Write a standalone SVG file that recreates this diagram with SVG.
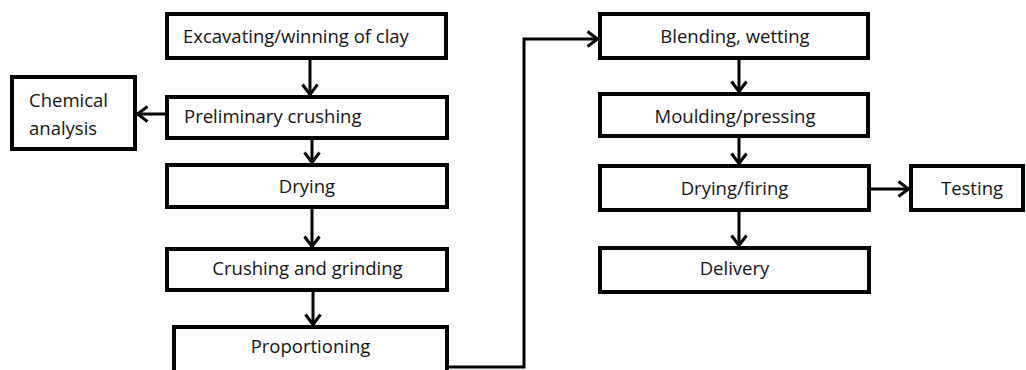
<svg xmlns="http://www.w3.org/2000/svg" width="1026" height="370" viewBox="0 0 1026 370">
  <style>
    .box { fill: #ffffff; stroke: #000000; stroke-width: 4; }
    .lbl { font-family: "Open Sans", "Liberation Sans", sans-serif; font-size: 18.5px; fill: #141414; }
    .c { text-anchor: middle; }
    .conn { fill: none; stroke: #000000; stroke-width: 3; }
  </style>
  <defs>
    <marker id="arrow" viewBox="0 0 14 18" markerWidth="14" markerHeight="18" refX="12.5" refY="9" orient="auto" markerUnits="userSpaceOnUse">
      <path d="M2,1.5 L12,9 L2,16.5" fill="none" stroke="#000" stroke-width="3"/>
    </marker>
  </defs>
  <rect width="1026" height="370" fill="#ffffff"/>

  <g id="connectors">
    <line class="conn" x1="310" y1="60" x2="310" y2="95" marker-end="url(#arrow)"/>
    <line class="conn" x1="165" y1="114" x2="137" y2="114" marker-end="url(#arrow)"/>
    <line class="conn" x1="312" y1="140" x2="312" y2="163" marker-end="url(#arrow)"/>
    <line class="conn" x1="312" y1="209" x2="312" y2="247" marker-end="url(#arrow)"/>
    <line class="conn" x1="313" y1="292" x2="313" y2="325" marker-end="url(#arrow)"/>
    <polyline class="conn" points="449,367 524,367 524,39 598,39" marker-end="url(#arrow)"/>
    <line class="conn" x1="739" y1="60" x2="739" y2="92" marker-end="url(#arrow)"/>
    <line class="conn" x1="739" y1="138" x2="739" y2="164" marker-end="url(#arrow)"/>
    <line class="conn" x1="739" y1="212" x2="739" y2="246" marker-end="url(#arrow)"/>
    <line class="conn" x1="871" y1="189" x2="909" y2="189" marker-end="url(#arrow)"/>
  </g>

  <g id="excavating">
    <rect class="box" x="167" y="14" width="279" height="44"/>
    <text class="lbl" x="183" y="43">Excavating/winning of clay</text>
  </g>
  <g id="preliminary">
    <rect class="box" x="167" y="97" width="280" height="41"/>
    <text class="lbl" x="184" y="123">Preliminary crushing</text>
  </g>
  <g id="chemical">
    <rect class="box" x="12" y="77" width="123" height="72"/>
    <text class="lbl" x="29" y="107">Chemical</text>
    <text class="lbl" x="29" y="135">analysis</text>
  </g>
  <g id="drying">
    <rect class="box" x="167" y="165" width="280" height="42"/>
    <text class="lbl c" x="307" y="193">Drying</text>
  </g>
  <g id="crushing">
    <rect class="box" x="167" y="249" width="280" height="41"/>
    <text class="lbl c" x="307.5" y="275">Crushing and grinding</text>
  </g>
  <g id="proportioning">
    <rect class="box" x="174" y="327" width="273" height="50"/>
    <text class="lbl c" x="310.5" y="353">Proportioning</text>
  </g>
  <g id="blending">
    <rect class="box" x="600" y="14" width="268" height="44"/>
    <text class="lbl c" x="735" y="43">Blending, wetting</text>
  </g>
  <g id="moulding">
    <rect class="box" x="600" y="94" width="268" height="42"/>
    <text class="lbl c" x="735" y="123">Moulding/pressing</text>
  </g>
  <g id="dryingfiring">
    <rect class="box" x="600" y="166" width="269" height="44"/>
    <text class="lbl c" x="734.5" y="195">Drying/firing</text>
  </g>
  <g id="testing">
    <rect class="box" x="911" y="166" width="112" height="44"/>
    <text class="lbl c" x="972" y="195">Testing</text>
  </g>
  <g id="delivery">
    <rect class="box" x="600" y="248" width="269" height="44"/>
    <text class="lbl c" x="734.5" y="275">Delivery</text>
  </g>
</svg>
